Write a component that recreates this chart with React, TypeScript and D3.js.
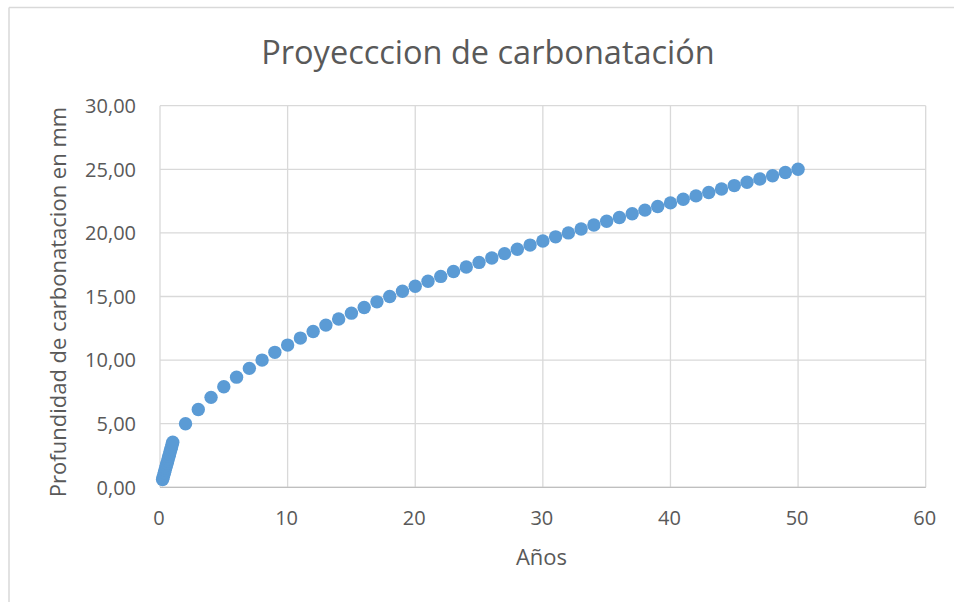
import React from "react";
import * as d3 from "d3";

const years: number[] = [
  0.2, 0.25, 0.3, 0.35, 0.4, 0.45, 0.5, 0.55, 0.6, 0.65, 0.7, 0.75, 0.8, 0.85, 0.9, 0.95, 1,
  2, 3, 4, 5, 6, 7, 8, 9, 10, 11, 12, 13, 14, 15, 16, 17, 18, 19, 20,
  21, 22, 23, 24, 25, 26, 27, 28, 29, 30, 31, 32, 33, 34, 35, 36, 37, 38, 39, 40,
  41, 42, 43, 44, 45, 46, 47, 48, 49, 50,
];
const depth: number[] = [
  0.61, 0.79, 0.98, 1.16, 1.34, 1.53, 1.71, 1.89, 2.07, 2.26, 2.44, 2.62, 2.81, 2.99, 3.17, 3.36, 3.54,
  5.0, 6.12, 7.07, 7.91, 8.66, 9.35, 10.0, 10.61, 11.18, 11.73, 12.25, 12.75, 13.23, 13.69, 14.14, 14.58, 15.0, 15.41, 15.81,
  16.2, 16.58, 16.96, 17.32, 17.68, 18.03, 18.37, 18.71, 19.04, 19.36, 19.69, 20.0, 20.31, 20.62, 20.92, 21.21, 21.51, 21.79, 22.08, 22.36,
  22.64, 22.91, 23.18, 23.45, 23.72, 23.98, 24.24, 24.49, 24.75, 25.0,
];
const xTicks: number[] = [0, 10, 20, 30, 40, 50, 60];
const yTicks: number[] = [0, 5, 10, 15, 20, 25, 30];

const title = "Proyecccion de carbonatación";
const xTitle = "Años";
const yTitle = "Profundidad de carbonatacion en mm";

export default function App() {
  const W = 954, H = 602;
  const left = 160, right = 925.7, top = 105.7, bottom = 487.3;
  const x = d3.scaleLinear().domain([0, 60]).range([left, right]);
  const y = d3.scaleLinear().domain([0, 30]).range([bottom, top]);
  const fmt = (v: number) => d3.format(".2f")(v).replace(".", ",");
  const font = "'Open Sans', sans-serif";
  const col = "#595959";
  return (
    <svg width={W} height={H} style={{ position: "absolute", left: 0, top: 0, background: "#fff" }} fontFamily={font}>
      <rect x={0} y={0} width={W} height={H} fill="#fff" />
      <line x1={9} x2={9} y1={7.5} y2={H} stroke="#d9d9d9" strokeWidth={1.5} />
      <line x1={9} x2={W} y1={7.5} y2={7.5} stroke="#d9d9d9" strokeWidth={1.5} />
      {yTicks.map((t) => (
        <line key={"gy" + t} x1={left} x2={right} y1={y(t)} y2={y(t)} stroke="#d9d9d9" strokeWidth={1.3} />
      ))}
      {xTicks.map((t) => (
        <line key={"gx" + t} x1={x(t)} x2={x(t)} y1={top} y2={bottom} stroke="#d9d9d9" strokeWidth={1.3} />
      ))}
      <line x1={left} x2={right} y1={bottom} y2={bottom} stroke="#bfbfbf" strokeWidth={1.3} />
      {yTicks.map((t) => (
        <text key={"ty" + t} x={136} y={y(t)} dy="0.36em" textAnchor="end" fontSize={20} fill={col}>
          {fmt(t)}
        </text>
      ))}
      {xTicks.map((t) => (
        <text key={"tx" + t} x={x(t) - 1} y={525} textAnchor="middle" fontSize={20} fill={col}>
          {t}
        </text>
      ))}
      {years.map((v, i) => (
        <circle key={"p" + i} cx={x(v)} cy={y(depth[i])} r={6.7} fill="#5b9bd5" />
      ))}
      <text x={488} y={64} textAnchor="middle" fontSize={32.5} fill={col}>
        {title}
      </text>
      <text x={541.5} y={565} textAnchor="middle" fontSize={22} fill={col}>
        {xTitle}
      </text>
      <text transform={`translate(66,302) rotate(-90)`} textAnchor="middle" fontSize={22} fill={col}>
        {yTitle}
      </text>
    </svg>
  );
}
